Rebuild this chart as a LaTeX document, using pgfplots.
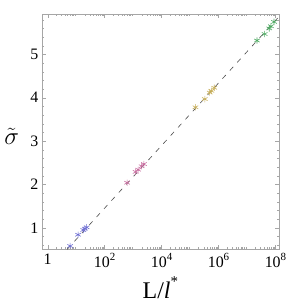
\documentclass[border=0pt]{standalone}
\usepackage{pgfplots}
\pgfplotsset{compat=1.18}
\usepackage{fontspec}
\setmainfont{Liberation Serif}
\definecolor{cblue}{RGB}{110,110,210}
\definecolor{cpink}{RGB}{200,110,160}
\definecolor{cyell}{RGB}{200,175,90}
\definecolor{cgreen}{RGB}{80,170,100}
\begin{document}
\begin{tikzpicture}
\begin{axis}[
  name=ax,
  scale only axis, width=237bp, height=235bp,
  xmode=log, log basis x=10,
  xmin=0.631, xmax=1.318e8,
  ymin=0.51, ymax=5.93,
  xtick={1,1e2,1e4,1e6,1e8},
  xticklabels={1,10\raisebox{0.9ex}{\fontsize{11}{11}\selectfont 2},10\raisebox{0.9ex}{\fontsize{11}{11}\selectfont 4},10\raisebox{0.9ex}{\fontsize{11}{11}\selectfont 6},10\raisebox{0.9ex}{\fontsize{11}{11}\selectfont 8}},
  minor xtick={2,3,4,5,6,7,8,9,20,30,40,50,60,70,80,90,200,300,400,500,600,700,800,900,2000,3000,4000,5000,6000,7000,8000,9000,2e4,3e4,4e4,5e4,6e4,7e4,8e4,9e4,2e5,3e5,4e5,5e5,6e5,7e5,8e5,9e5,2e6,3e6,4e6,5e6,6e6,7e6,8e6,9e6,2e7,3e7,4e7,5e7,6e7,7e7,8e7,9e7},
  ytick={1,2,3,4,5},
  yticklabels={1,2,3,4,5},
  minor ytick={0.6,0.8,1.2,1.4,1.6,1.8,2.2,2.4,2.6,2.8,3.2,3.4,3.6,3.8,4.2,4.4,4.6,4.8,5.2,5.4,5.6,5.8},
  axis line style={black!35},
  tick style={black!35},
  major tick length=4bp, minor tick length=2bp,
  tick label style={font=\fontsize{16}{16}\selectfont},
  xticklabel style={yshift=-1bp},
  xlabel={L/\textit{l}\raisebox{1.1ex}{\fontsize{15}{15}\selectfont *}},
  ylabel={$\tilde{\sigma}$},
  label style={font=\fontsize{24}{24}\selectfont},
  xlabel style={at={(axis description cs:0.5,-0.166)}, anchor=center},
  ylabel style={at={(axis description cs:-0.128,0.48)}, anchor=center, rotate=-90},
  clip=false,
]
\addplot[black!70, dash pattern=on 5bp off 6bp, line width=0.6pt] coordinates {(4.79,0.50) (1.318e8,5.87)};
\addplot[only marks, mark=asterisk, mark size=3.2bp, color=cblue, line width=0.6pt] coordinates {
(6.17,0.58) (11.7,0.84) (17.8,0.95) (20.4,0.98) (23.4,1.01)};
\addplot[only marks, mark=asterisk, mark size=3.2bp, color=cpink, line width=0.6pt] coordinates {
(617,2.04) (1230,2.29) (1514,2.34) (1995,2.42) (2399,2.47)};
\addplot[only marks, mark=asterisk, mark size=3.2bp, color=cyell, line width=0.6pt] coordinates {
(1.55e5,3.78) (3.31e5,3.97) (4.90e5,4.12) (5.62e5,4.16) (7.08e5,4.23)};
\addplot[only marks, mark=asterisk, mark size=3.2bp, color=cgreen, line width=0.6pt] coordinates {
(2.24e7,5.32) (4.17e7,5.47) (6.03e7,5.60) (6.92e7,5.65) (8.91e7,5.75)};
\path (rel axis cs:-0.177,-0.251) rectangle (rel axis cs:1.051,1.06);
\end{axis}
\end{tikzpicture}
\end{document}
